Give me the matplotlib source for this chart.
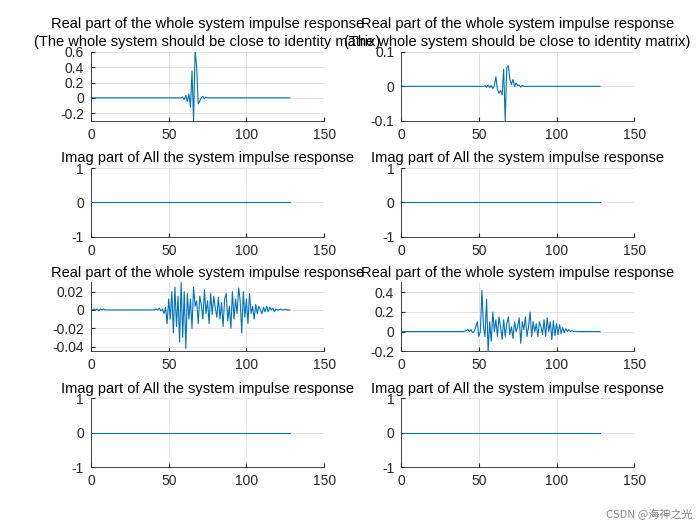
import matplotlib
matplotlib.use("Agg")
import matplotlib.pyplot as plt
import numpy as np

plt.rcParams['font.family'] = ['Liberation Sans', 'DejaVu Sans']
plt.rcParams['axes.unicode_minus'] = False

N = 128
n = list(range(1, N + 1))

seg1_start = 58
seg1 = [0.01, -0.02, 0.03, -0.05, 0.05, -0.12, 0.35, -0.30, 0.62, 0.40, -0.08, -0.04, 0.0, 0.02, -0.01, 0.01]
seg2_start = 53
seg2 = [0.002, -0.003, 0.004, -0.004, 0.003, -0.006, 0.002, 0.028, -0.01, -0.02, -0.012,
        -0.025, 0.05, -0.1, 0.055, 0.06, 0.02, 0.005, 0.02, 0.0, 0.01, 0.002, 0.004, -0.002, 0.003, 0.0]
seg3_start = 0
seg3 = [0.0, 0.001, 0.0, 0.001, -0.001, 0.001, 0.0, 0.001, 0.0, 0.0, 0.0, 0.0, 0.0, 0.0, 0.0, 0.0,
        0.0, 0.0, 0.0, 0.0, 0.0, 0.0, 0.0, 0.0, 0.0, 0.0, 0.0, 0.0, 0.0, 0.0, 0.0, 0.0,
        0.0, 0.0, 0.0, 0.0, 0.0, 0.0, 0.0, 0.0, 0.0, 0.001, 0.0, 0.002, -0.001, 0.001, -0.004, 0.003,
        -0.015, 0.012, -0.01, 0.02, -0.025, 0.025, -0.018, 0.015, -0.035, 0.03, -0.03, 0.02, -0.042, 0.018,
        -0.01, 0.012, -0.02, 0.025, 0.004, 0.01, -0.015, 0.015, 0.005, -0.01, 0.022, -0.004, 0.01, -0.015,
        0.018, -0.005, 0.015, 0.002, -0.008, 0.014, -0.01, 0.008, -0.018, 0.012, 0.018, -0.012, 0.004, -0.02,
        0.02, -0.01, 0.012, -0.004, 0.024, 0.01, -0.025, 0.02, -0.008, 0.012, -0.015, 0.018, -0.004, 0.004,
        -0.01, 0.006, -0.004, 0.004, 0.0, -0.004, 0.003, -0.002, 0.004, -0.002, 0.003, 0.0, 0.002, -0.002,
        0.001, 0.0, 0.0, 0.001, 0.0, 0.0, 0.001, 0.0]
seg4_start = 40
seg4 = [0.005, 0.01, 0.02, 0.0, 0.02, -0.01, 0.0, 0.05, 0.1, -0.05, 0.0, 0.42, 0.05, -0.05, 0.33, -0.2,
        0.1, -0.1, 0.2, 0.0, 0.12, -0.05, 0.15, 0.05, -0.08, 0.12, -0.05, 0.08, 0.15, -0.03, 0.05, -0.07,
        0.1, 0.0, 0.05, 0.14, -0.12, 0.1, 0.02, 0.15, -0.05, 0.05, 0.2, -0.05, 0.1, 0.0, 0.08, -0.05,
        0.1, 0.05, -0.03, 0.12, -0.05, 0.14, 0.0, 0.1, -0.08, 0.11, -0.04, 0.08, -0.03, 0.07, -0.02, 0.04,
        -0.01, 0.03, 0.0, 0.02, 0.0, 0.01, 0.0, 0.005, 0.0, 0.003, 0.0, 0.0, 0.0, 0.0, 0.0, 0.0, 0.0, 0.0, 0.0, 0.0, 0.0, 0.0, 0.0, 0.0]

def build(start, seg):
    y = np.zeros(N)
    seg = seg[:N - start]
    y[start:start + len(seg)] = seg
    return y

reals = [build(seg1_start, seg1), build(seg2_start, seg2), build(seg3_start, seg3), build(seg4_start, seg4)]
imag = np.zeros(N)

real_title = "Real part of the whole system impulse response"
real_title_first = "Real part of the whole system impulse response\n(The whole system should be close to identity matrix)"
imag_title = "Imag part of All the system impulse response"

ylims_real = [(-0.3, 0.6), (-0.1, 0.1), (-0.045, 0.03), (-0.2, 0.5)]
yticks_real = [[-0.2, 0, 0.2, 0.4, 0.6], [-0.1, 0, 0.1], [-0.04, -0.02, 0, 0.02], [-0.2, 0, 0.2, 0.4]]
yticklabels_real = [["-0.2", "0", "0.2", "0.4", "0.6"], ["-0.1", "0", "0.1"],
                    ["-0.04", "-0.02", "0", "0.02"], ["-0.2", "0", "0.2", "0.4"]]

fig = plt.figure(figsize=(7, 5.25), dpi=100)
lefts = [0.13, 0.573]
w = 0.333
bottoms = [0.770, 0.549, 0.331, 0.110]
h = 0.131
color = "#0072BD"

def style(ax):
    ax.set_xlim(0, 150)
    ax.set_xticks([0, 50, 100, 150])
    ax.grid(True, color="#DFDFDF", linewidth=0.6)
    ax.tick_params(labelsize=10, direction="in", length=3, colors="#262626", pad=5)
    for s in ax.spines.values():
        s.set_color("#262626"); s.set_linewidth(0.6)
    ax.spines["top"].set_visible(False)
    ax.spines["right"].set_visible(False)

for col in range(2):
    for blk in range(2):
        k = blk * 2 + col
        ax = fig.add_axes([lefts[col], bottoms[blk * 2], w, h])
        ax.plot(n, reals[k], color=color, linewidth=0.8)
        style(ax)
        ax.set_ylim(*ylims_real[k])
        ax.set_yticks(yticks_real[k])
        ax.set_yticklabels(yticklabels_real[k])
        ax.set_title(real_title_first if blk == 0 else real_title, fontsize=10.5, pad=4, linespacing=1.4)
        ax2 = fig.add_axes([lefts[col], bottoms[blk * 2 + 1], w, h])
        ax2.plot(n, imag, color=color, linewidth=0.8)
        style(ax2)
        ax2.set_ylim(-1, 1)
        ax2.set_yticks([-1, 0, 1])
        ax2.set_title(imag_title, fontsize=10.5, pad=4)

fig.text(0.99, 0.01, "CSDN @海神之光", ha="right", va="bottom", fontsize=8, color="#888888",
         family=["Noto Sans CJK SC", "DejaVu Sans"])
fig.savefig("out.png", dpi=100, facecolor="white")
